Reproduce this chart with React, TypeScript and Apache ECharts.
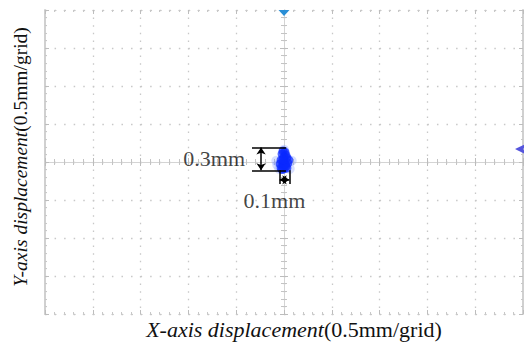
import React, { useEffect, useRef } from "react";
import * as echarts from "echarts";

// Scope screen: 10 x 8 divisions, 0.5 mm per division
const X_RANGE = [-2.5, 2.5];
const Y_RANGE = [-2, 2];
const DIV = 0.5;

// Light spot traced on the screen (mm)
const spotX = [-0.01, 0.01, -0.02, 0.02, 0.0, 0.03, 0.05, -0.03, 0.0, 0.04, -0.04, -0.01, 0.02, -0.03, 0.0, 0.03, -0.02, 0.01, -0.01];
const spotY = [0.145, 0.13, 0.105, 0.09, 0.065, 0.055, 0.025, 0.025, 0.0, -0.015, -0.025, -0.04, -0.055, -0.08, -0.09, -0.08, -0.1, -0.03, 0.03];
// Faint afterglow around the spot (mm)
const glowX = [-0.08, 0.08, 0.0, -0.05, 0.06, -0.07];
const glowY = [0.015, 0.015, 0.16, -0.09, -0.09, -0.04];

// Measured extent of the spot (mm)
const verticalSpan = [-0.11, 0.19]; // 0.3 mm
const horizontalSpan = [-0.045, 0.055]; // 0.1 mm
const spanLabels = ["0.3mm", "0.1mm"];

// Markers: trigger position (top) and trigger level (right), mm
const triggerPos = 0;
const triggerLevel = 0.17;

const FONT = "Liberation Serif";
const GRID_DOT = "#c8c8c8";

function axisCommon(range: number[]) {
  return {
    type: "value",
    min: range[0],
    max: range[1],
    interval: DIV,
    axisLabel: { show: false },
    splitLine: { show: false },
    minorSplitLine: { show: false },
  };
}

export default function App() {
  const ref = useRef<HTMLDivElement>(null);

  useEffect(() => {
    if (!ref.current) return;
    const chart = echarts.init(ref.current, null, { renderer: "svg" });
    const rect = { left: 45, top: 10, width: 478, height: 304 };

    const borderX = (pos: "top" | "bottom", split: boolean) => ({
      ...axisCommon(X_RANGE),
      gridIndex: 0,
      position: pos,
      axisLine: { show: true, onZero: false, lineStyle: { color: GRID_DOT, width: 1, type: [1.5, 8.06] } },
      axisTick: { show: true, inside: true, length: 4, lineStyle: { color: "#bdbdbd" } },
      minorTick: { show: true, splitNumber: 5, length: 2, lineStyle: { color: "#c8c8c8" } },
      splitLine: { show: split, lineStyle: { color: GRID_DOT, width: 1.3, type: [1.5, 6.1] } },
    });
    const borderY = (pos: "left" | "right", split: boolean) => ({
      ...axisCommon(Y_RANGE),
      gridIndex: 0,
      position: pos,
      axisLine: { show: true, onZero: false, lineStyle: { color: "#d0d0d0", width: 2 } },
      axisTick: { show: true, inside: true, length: 4, lineStyle: { color: "#bdbdbd" } },
      minorTick: { show: true, splitNumber: 5, length: 2, lineStyle: { color: "#c8c8c8" } },
      splitLine: { show: split, lineStyle: { color: GRID_DOT, width: 1.3, type: [1.5, 8.06] } },
    });
    const centerX = (gridIndex: number, inside: boolean) => ({
      ...axisCommon(X_RANGE),
      gridIndex,
      axisLine: { show: true, onZero: true, lineStyle: { color: "#d4d4d4", width: 1 } },
      axisTick: { show: true, inside, length: 4, lineStyle: { color: "#bcbcbc" } },
      minorTick: { show: true, splitNumber: 5, length: 3, lineStyle: { color: "#c4c4c4" } },
    });
    const centerY = (gridIndex: number, inside: boolean) => ({
      ...axisCommon(Y_RANGE),
      gridIndex,
      axisLine: { show: true, onZero: true, lineStyle: { color: "#d4d4d4", width: 1 } },
      axisTick: { show: true, inside, length: 4, lineStyle: { color: "#bcbcbc" } },
      minorTick: { show: true, splitNumber: 5, length: 3, lineStyle: { color: "#c4c4c4" } },
    });

    const spot = spotX.map((x, i) => [x, spotY[i]]);
    const glow = glowX.map((x, i) => [x, glowY[i]]);
    const vx = -0.24;
    const hy = -0.235;
    const bracketLeft = -0.335;

    const titleRich = (size: number) => ({
      i: { fontFamily: FONT, fontStyle: "italic", fontSize: size, fill: "#111" },
      n: { fontFamily: FONT, fontSize: size, fill: "#111" },
    });

    chart.setOption({
      animation: false,
      grid: [
        { ...rect, containLabel: false },
        { ...rect, containLabel: false },
        { ...rect, containLabel: false },
      ],
      xAxis: [borderX("bottom", true), borderX("top", false), centerX(1, true), centerX(2, false)],
      yAxis: [borderY("left", true), borderY("right", false), centerY(1, true), centerY(2, false)],
      graphic: [
        {
          type: "text",
          x: 294,
          y: 330,
          scaleX: 1.1,
          style: {
            text: "{i|X-axis displacement}{n|(0.5mm/grid)}",
            align: "center",
            verticalAlign: "middle",
            rich: titleRich(20),
          },
        },
        {
          type: "text",
          x: 20,
          y: 157,
          rotation: Math.PI / 2,
          style: {
            text: "{i|Y-axis displacement}{n|(0.5mm/grid)}",
            align: "center",
            verticalAlign: "middle",
            rich: titleRich(19.5),
          },
        },
      ],
      series: [
        {
          name: "afterglow",
          type: "scatter",
          xAxisIndex: 0,
          yAxisIndex: 0,
          data: glow,
          symbolSize: 10,
          itemStyle: { color: "rgba(110,140,255,0.35)" },
          z: 3,
        },
        {
          name: "spot",
          type: "scatter",
          xAxisIndex: 0,
          yAxisIndex: 0,
          data: spot,
          symbolSize: 9,
          itemStyle: { color: "rgba(10,40,255,0.9)" },
          z: 4,
          markPoint: {
            silent: true,
            label: { show: false },
            data: [
              {
                coord: [triggerPos, Y_RANGE[1]],
                symbol: "triangle",
                symbolRotate: 180,
                symbolSize: [11, 6],
                symbolOffset: [0, 3],
                itemStyle: { color: "#2a8fd6" },
              },
              {
                coord: [X_RANGE[1], triggerLevel],
                symbol: "arrow",
                symbolRotate: 90,
                symbolSize: [8, 11],
                symbolOffset: [-8, 0],
                itemStyle: { color: "#5555dd" },
              },
            ],
          },
        },
        {
          name: "extent lines",
          type: "lines",
          coordinateSystem: "cartesian2d",
          xAxisIndex: 0,
          yAxisIndex: 0,
          symbol: "none",
          lineStyle: { color: "#000", width: 1.5, opacity: 1 },
          z: 5,
          data: [
            { coords: [[bracketLeft, verticalSpan[1]], [0.02, verticalSpan[1]]] },
            { coords: [[bracketLeft, verticalSpan[0]], [0.02, verticalSpan[0]]] },
            { coords: [[horizontalSpan[0], verticalSpan[0]], [horizontalSpan[0], -0.29]] },
            { coords: [[horizontalSpan[1], verticalSpan[0]], [horizontalSpan[1], -0.29]] },
          ],
        },
        {
          name: "extent arrows",
          type: "lines",
          coordinateSystem: "cartesian2d",
          xAxisIndex: 0,
          yAxisIndex: 0,
          symbol: ["arrow", "arrow"],
          symbolSize: 7,
          lineStyle: { color: "#000", width: 1.5, opacity: 1 },
          z: 5,
          data: [
            { coords: [[vx, verticalSpan[1]], [vx, verticalSpan[0]]] },
            { coords: [[horizontalSpan[0], hy], [horizontalSpan[1], hy]] },
          ],
        },
        {
          name: "extent labels",
          type: "scatter",
          xAxisIndex: 0,
          yAxisIndex: 0,
          symbolSize: 0,
          z: 6,
          data: [
            { value: [-0.73, 0.05], label: { formatter: spanLabels[0] } },
            { value: [-0.1, -0.5], label: { formatter: spanLabels[1] } },
          ],
          label: {
            show: true,
            position: "inside",
            fontFamily: FONT,
            fontSize: 22,
            color: "#111",
          },
        },
      ],
    });
    return () => chart.dispose();
  }, []);

  return <div ref={ref} style={{ width: 524, height: 353, position: "absolute", left: 0, top: 0 }} />;
}
